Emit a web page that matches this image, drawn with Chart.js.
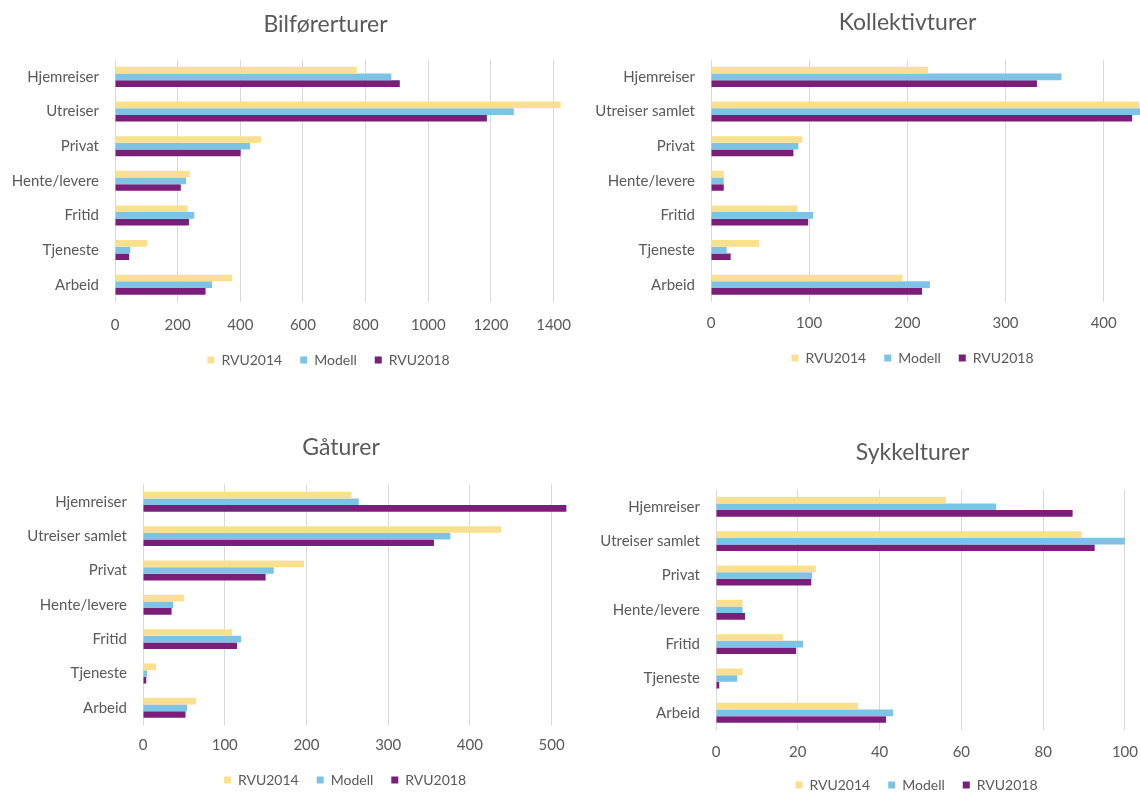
<!DOCTYPE html>
<html>
<head>
<meta charset="utf-8">
<script src="https://cdn.jsdelivr.net/npm/chart.js@4.4.1/dist/chart.umd.min.js"></script>
<style>
  body { margin: 0; background: #fff; width: 1140px; height: 793px; position: relative; overflow: hidden; }
  .box { position: absolute; }
</style>
</head>
<body>
<div class="box" style="left:0px;top:0px;width:578px;height:377px"><canvas id="bilChart"></canvas></div>
<div class="box" style="left:585px;top:0px;width:555px;height:375px"><canvas id="kollChart"></canvas></div>
<div class="box" style="left:0px;top:420px;width:578px;height:377px"><canvas id="gaaChart"></canvas></div>
<div class="box" style="left:585px;top:420px;width:555px;height:382px"><canvas id="sykkelChart"></canvas></div>
<script>
// categories, top to bottom
var bilLabels = ['Hjemreiser', 'Utreiser', 'Privat', 'Hente/levere', 'Fritid', 'Tjeneste', 'Arbeid'];
var otherLabels = ['Hjemreiser', 'Utreiser samlet', 'Privat', 'Hente/levere', 'Fritid', 'Tjeneste', 'Arbeid'];
var seriesNames = ['RVU2014', 'Modell', 'RVU2018'];

// Bilførerturer
var bilRvu2014 = [772, 1423, 466, 239, 232, 103, 374];
var bilModell = [882, 1273, 431, 227, 253, 49, 310];
var bilRvu2018 = [909, 1187, 401, 210, 236, 45, 289];
var bilTicks = [0, 200, 400, 600, 800, 1000, 1200, 1400];

// Kollektivturer
var kollRvu2014 = [221, 436, 93, 13, 88, 49, 195];
var kollModell = [357, 445, 89, 13, 104, 16, 223];
var kollRvu2018 = [332, 429, 84, 13, 99, 20, 215];
var kollTicks = [0, 100, 200, 300, 400];

// Gåturer
var gaaRvu2014 = [255, 438, 197, 50, 109, 16, 65];
var gaaModell = [264, 376, 160, 37, 120, 5, 54];
var gaaRvu2018 = [518, 356, 150, 35, 115, 4, 52];
var gaaTicks = [0, 100, 200, 300, 400, 500];

// Sykkelturer
var sykRvu2014 = [56.2, 89.4, 24.4, 6.5, 16.4, 6.5, 34.7];
var sykModell = [68.5, 100, 23.5, 6.5, 21.3, 5.2, 43.3];
var sykRvu2018 = [87.2, 92.6, 23.3, 7.1, 19.6, 0.8, 41.6];
var sykTicks = [0, 20, 40, 60, 80, 100];

var colors = ['#F9E08F', '#7DC3E5', '#7B1E7A'];
var textColor = '#595959';
var fontFam = "Lato, 'Open Sans', sans-serif";

// moves title and legend sideways so they sit where Excel put them
var shiftPlugin = {
    id: 'shiftBlocks',
    afterLayout: function (chart, args, opts) {
        if (chart.titleBlock) { chart.titleBlock.left += opts.titleDx; chart.titleBlock.right += opts.titleDx; }
        if (chart.legend) { chart.legend.left += opts.legendDx; chart.legend.right += opts.legendDx; }
    }
};

function makeChart(id, title, labels, v14, vMod, v18, tickValues, cfg) {
    var data = [v14, vMod, v18];
    return new Chart(document.getElementById(id), {
        type: 'bar',
        data: {
            labels: labels,
            datasets: seriesNames.map(function (name, i) {
                return {
                    label: name,
                    data: data[i],
                    backgroundColor: colors[i],
                    borderWidth: 0,
                    categoryPercentage: 0.58,
                    barPercentage: 1.0
                };
            })
        },
        options: {
            indexAxis: 'y',
            responsive: true,
            maintainAspectRatio: false,
            animation: false,
            layout: { padding: { left: 0, right: cfg.padRight, top: 0, bottom: 0 } },
            scales: {
                x: {
                    min: 0,
                    max: cfg.max,
                    ticks: {
                        color: textColor,
                        font: { family: fontFam, size: 15 },
                        padding: 2,
                        callback: function (v) { return String(v); }
                    },
                    afterBuildTicks: function (axis) {
                        axis.ticks = tickValues.map(function (v) { return { value: v }; });
                    },
                    // invisible tick marks push the labels down
                    grid: { color: '#D9D9D9', drawTicks: true, tickLength: cfg.tickPad - 2, tickColor: 'rgba(0,0,0,0)' },
                    border: { display: false },
                    afterFit: function (axis) { axis.height = cfg.axisH; }
                },
                y: {
                    ticks: { color: textColor, font: { family: fontFam, size: 15 }, padding: 8 },
                    grid: { display: false },
                    border: { display: false },
                    afterFit: function (axis) { axis.width = cfg.yWidth; }
                }
            },
            plugins: {
                title: {
                    display: true,
                    text: title,
                    color: textColor,
                    font: { family: fontFam, size: 23, weight: 'normal' },
                    padding: { top: cfg.titleTop, bottom: cfg.titleBottom }
                },
                legend: {
                    position: 'bottom',
                    labels: {
                        color: textColor,
                        font: { family: fontFam, size: 14 },
                        boxWidth: 7,
                        boxHeight: 7,
                        padding: 18
                    }
                },
                tooltip: { enabled: false },
                shiftBlocks: { titleDx: cfg.titleDx, legendDx: cfg.legendDx }
            }
        },
        plugins: [shiftPlugin]
    });
}

makeChart('bilChart', 'Bilførerturer', bilLabels, bilRvu2014, bilModell, bilRvu2018, bilTicks,
    { max: 1430, padRight: 15, yWidth: 115, titleTop: 11, titleBottom: 21,
      tickPad: 14, axisH: 33, titleDx: 44, legendDx: 47 });
makeChart('kollChart', 'Kollektivturer', otherLabels, kollRvu2014, kollModell, kollRvu2018, kollTicks,
    { max: 437, padRight: 0, yWidth: 126, titleTop: 9, titleBottom: 23,
      tickPad: 12, axisH: 31, titleDx: 45, legendDx: 50 });
makeChart('gaaChart', 'Gåturer', otherLabels, gaaRvu2014, gaaModell, gaaRvu2018, gaaTicks,
    { max: 520, padRight: 10, yWidth: 143, titleTop: 14, titleBottom: 23,
      tickPad: 11, axisH: 30, titleDx: 57, legendDx: 61 });
makeChart('sykkelChart', 'Sykkelturer', otherLabels, sykRvu2014, sykModell, sykRvu2018, sykTicks,
    { max: 100, padRight: 0, yWidth: 131, titleTop: 19, titleBottom: 23,
      tickPad: 13, axisH: 30, titleDx: 50, legendDx: 54 });
</script>
</body>
</html>
